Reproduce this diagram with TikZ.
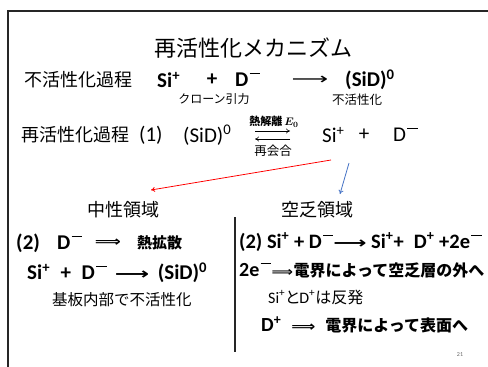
\documentclass[tikz,border=0pt]{standalone}
\usepackage{fontspec}
\usetikzlibrary{arrows.meta}
\setmainfont{Carlito}
\newfontfamily\jp{Noto Sans CJK JP}
\newfontfamily\jpp{Noto Sans CJK JP}[RawFeature=+palt]
\newfontfamily\dv{DejaVu Sans}
\newcommand\J[1]{{\jp #1}}
\newcommand\JP[1]{{\jpp #1}}
\newcommand\fs[1]{\fontsize{#1}{#1}\selectfont}
\newcommand\sm{\kern0.06em\raisebox{0.6em}{\rule{0.5em}{0.065em}}}
\newcommand\DA[1]{\scalebox{#1}[1]{\dv\bfseries ⟹}}
\newcommand\LA[1]{\scalebox{#1}[1]{\dv ⟶}}
\tikzset{
  txt/.style={inner sep=0pt, anchor=west},
  ctxt/.style={inner sep=0pt, anchor=center},
  frame/.style={line width=1.6pt, black!85},
  arr/.style={-{To[length=4pt,width=5pt]}, line width=0.6pt},
}
\begin{document}
\begin{tikzpicture}[x=1pt,y=-1pt]
\useasboundingbox (0,0) rectangle (488,367);
% frame
\draw[frame] (488,11) -- (8,11) -- (8,367);
\draw[frame] (235,217) -- (235,352);
% title
\node[ctxt] (title) at (253,48) {\fs{22}\J{再活性化メカニズム}};
% line 2
\node[txt] (inact) at (24,80) {\fs{18}\J{不活性化過程}};
\node[txt] (si1) at (157,80) {\fs{21}\bfseries Si\textsuperscript{+}};
\node[ctxt] (p1) at (212,80) {\fs{21}\bfseries +};
\node[txt] (d1) at (235,80) {\fs{21}\bfseries D\sm};
\node[ctxt] (ar1) at (310,80) {\fs{16}\LA{1.6}};
\node[txt] (sid1) at (345,80) {\fs{21}\bfseries (SiD)\textsuperscript{0}};
\node[ctxt] (coul) at (214,99) {\fs{12}\J{クローン引力}};
\node[ctxt] (inact2) at (357,100) {\fs{12.5}\J{不活性化}};
% line 3
\node[txt] (react) at (21,135) {\fs{18}\J{再活性化過程}};
\node[txt] (one) at (139,135) {\fs{21}(1)};
\node[txt] (sid2) at (183,135) {\fs{21}(SiD)\textsuperscript{0}};
\coordinate (ra) at (255,131);
\coordinate (rb) at (290,131);
\coordinate (la) at (290,139);
\coordinate (lb) at (255,139);
\draw[arr] (ra) -- (rb);
\draw[arr] (la) -- (lb);
\node[ctxt] (diss) at (274,122) {\fs{11}\J{\bfseries 熱解離}\,{\boldmath$E_0$}};
\node[ctxt] (recomb) at (273,151) {\fs{12.5}\J{再会合}};
\node[txt] (si2) at (322,135) {\fs{21}Si\textsuperscript{+}};
\node[ctxt] (p2) at (364,135) {\fs{21}+};
\node[txt] (d2) at (393,135) {\fs{21}D\sm};
% branch arrows
\coordinate (rs) at (331,160);
\coordinate (re) at (151,190);
\coordinate (bs) at (349,163);
\coordinate (be) at (340,194);
\draw[arr, red, line width=0.8pt] (rs) -- (re);
\draw[arr, color={rgb,255:red,68;green,114;blue,196}, line width=0.8pt] (bs) -- (be);
\node[ctxt] (neutral) at (123,210) {\fs{18}\J{中性領域}};
\node[ctxt] (depl) at (317,210) {\fs{18}\J{空乏領域}};
% left column
\node[txt] (l1a) at (16,243) {\fs{21}\bfseries (2)};
\node[txt] (l1b) at (57,243) {\fs{21}\bfseries D\sm};
\node[ctxt] (l1c) at (108,243) {\fs{14}\DA{1.3}};
\node[txt] (l1d) at (137,243) {\fs{15}\J{\bfseries 熱拡散}};
\node[txt] (l2) at (27,273) {\fs{21}\bfseries Si\textsuperscript{+}\enspace+\enspace D\sm\hspace{0.4em}{\fs{16}\LA{1.5}}\hspace{0.4em}(SiD)\textsuperscript{0}};
\node[ctxt] (l3) at (122,300) {\fs{15.5}\J{基板内部で不活性化}};
% right column
\node[txt] (r1) at (239,242) {\fs{20.5}\bfseries (2) Si\textsuperscript{+} + D\sm{\fs{16}\LA{1.45}} Si\textsuperscript{+}+\enspace D\textsuperscript{+} +2e\sm};
\node[txt] (r2) at (239,270) {\fs{20}\bfseries 2e\sm\kern1pt{\fs{13}\DA{1.15}}\kern0.5pt\fs{16}\J{\bfseries 電界によって空乏層の外へ}};
\node[txt] (r3) at (268,297) {\fs{16}Si\textsuperscript{+}\JP{と}D\textsuperscript{+}\J{は反発}};
\node[txt] (r4) at (261,325) {\fs{20}\bfseries D\textsuperscript{+}\enspace{\fs{14}\DA{1.2}}\enspace\fs{16}\J{\bfseries 電界によって表面へ}};
\node[ctxt, text=black!60] (pg) at (460,355) {\fs{6}21};
\end{tikzpicture}
\end{document}
